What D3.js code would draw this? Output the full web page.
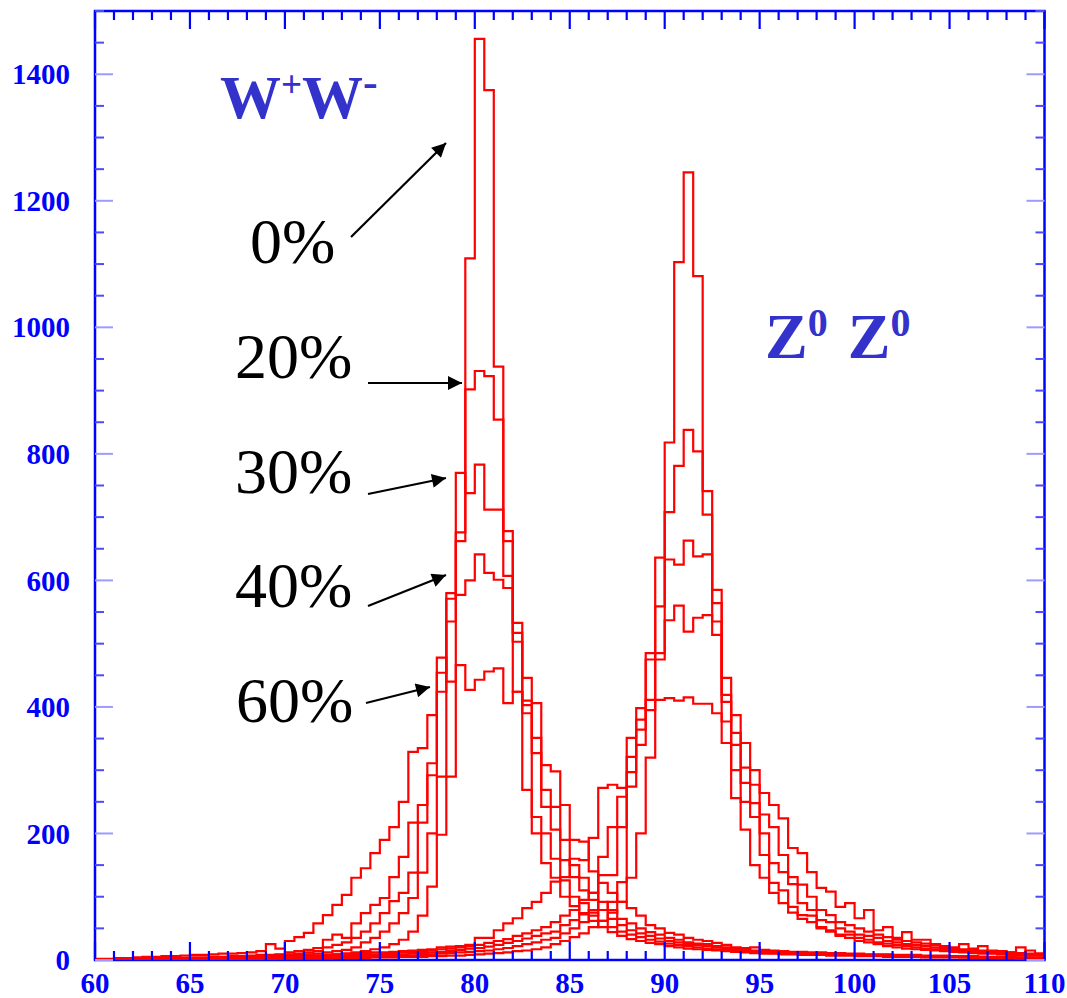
<!DOCTYPE html>
<html lang="en">
<head>
<meta charset="UTF-8">
<title>W+W- and Z0Z0 mass peaks</title>
<script src="https://d3js.org/d3.v7.min.js"></script>
<style>
  body, html { margin: 0; padding: 0; background: #ffffff; }
  svg { display: block; }
</style>
</head>
<body>
<svg id="chart"></svg>
<script>
const width = 1067;
const height = 998;

// 100 bins of 0.5 from 60 to 110
const binStart = 60;
const binWidth = 0.5;

// W+W- peaks, one array per smearing
const ww0 = [
  0, 1, 0, 1, 1, 1, 1, 1, 2, 1,
  2, 2, 2, 3, 2, 3, 3, 3, 4, 4,
  5, 5, 6, 7, 8, 9, 10, 12, 14, 17,
  20, 25, 32, 45, 70, 116, 198, 290, 676, 1109,
  1456, 1375, 938, 607, 424, 269, 200, 153, 130, 100,
  85, 72, 62, 52, 44, 38, 33, 30, 27, 25,
  22, 20, 18, 17, 16, 15, 14, 13, 12, 11,
  10, 10, 9, 9, 8, 8, 8, 7, 7, 7,
  6, 6, 6, 5, 5, 5, 5, 4, 4, 4,
  4, 4, 3, 3, 3, 3, 3, 2, 2, 2
];
const ww20 = [
  0, 1, 1, 1, 1, 2, 1, 2, 2, 2,
  2, 3, 3, 3, 4, 4, 4, 5, 5, 6,
  7, 8, 9, 10, 12, 14, 16, 20, 28, 35,
  45, 58, 74, 98, 138, 200, 290, 535, 662, 902,
  931, 923, 854, 662, 503, 390, 226, 200, 160, 126,
  100, 90, 75, 62, 52, 45, 40, 36, 32, 29,
  26, 24, 22, 20, 18, 17, 16, 15, 14, 13,
  12, 11, 11, 10, 10, 9, 9, 8, 8, 8,
  7, 7, 7, 6, 6, 6, 5, 5, 5, 5,
  5, 4, 4, 4, 4, 3, 3, 3, 3, 3
];
const ww30 = [
  1, 1, 1, 1, 2, 2, 2, 2, 2, 3,
  3, 3, 4, 4, 5, 5, 6, 6, 7, 8,
  9, 10, 12, 14, 20, 24, 28, 35, 45, 58,
  74, 93, 106, 138, 217, 292, 424, 571, 770, 738,
  783, 712, 712, 678, 517, 403, 327, 242, 206, 158,
  131, 110, 95, 79, 65, 55, 47, 42, 38, 34,
  30, 28, 25, 24, 22, 20, 18, 16, 15, 14,
  13, 12, 12, 11, 11, 10, 10, 9, 9, 9,
  8, 8, 7, 7, 7, 6, 6, 6, 5, 5,
  5, 5, 4, 4, 4, 4, 3, 3, 3, 3
];
const ww40 = [
  1, 1, 1, 2, 2, 2, 2, 3, 3, 3,
  4, 4, 5, 5, 6, 6, 7, 8, 8, 9,
  12, 14, 16, 19, 32, 40, 35, 58, 74, 87,
  98, 131, 163, 217, 245, 311, 454, 580, 577, 600,
  641, 612, 601, 588, 533, 446, 351, 269, 242, 190,
  150, 130, 106, 92, 79, 65, 58, 50, 44, 40,
  35, 32, 28, 26, 25, 22, 20, 18, 17, 15,
  14, 13, 13, 12, 12, 11, 11, 10, 10, 9,
  9, 8, 8, 8, 7, 7, 7, 6, 6, 6,
  5, 5, 5, 5, 4, 4, 4, 4, 3, 3
];
const ww60 = [
  2, 2, 3, 3, 4, 5, 5, 6, 6, 7,
  8, 8, 9, 10, 10, 11, 12, 14, 25, 18,
  30, 36, 43, 58, 71, 87, 103, 130, 145, 169,
  190, 210, 250, 329, 335, 387, 478, 440, 466, 427,
  443, 456, 461, 406, 424, 410, 406, 308, 298, 245,
  190, 187, 140, 122, 106, 92, 82, 70, 55, 50,
  43, 40, 35, 32, 30, 27, 24, 20, 19, 20,
  16, 15, 14, 13, 13, 12, 12, 11, 11, 10,
  10, 9, 9, 9, 8, 8, 8, 7, 7, 7,
  6, 6, 6, 5, 5, 5, 5, 4, 4, 4
];

// Z0Z0 peaks, same smearings
const zz0 = [
  0, 0, 0, 0, 0, 0, 0, 0, 1, 0,
  1, 0, 1, 1, 1, 1, 1, 1, 1, 2,
  2, 2, 2, 2, 2, 3, 3, 3, 3, 4,
  4, 4, 5, 5, 5, 6, 6, 7, 7, 8,
  9, 10, 11, 12, 14, 15, 17, 20, 25, 30,
  36, 42, 52, 62, 75, 92, 130, 200, 320, 475,
  818, 1103, 1245, 1081, 704, 514, 343, 256, 206, 150,
  130, 106, 90, 75, 65, 60, 50, 45, 38, 35,
  30, 28, 25, 22, 20, 18, 17, 16, 15, 14,
  13, 12, 11, 10, 10, 9, 8, 8, 7, 7
];
const zz20 = [
  0, 0, 0, 0, 0, 0, 1, 0, 1, 1,
  1, 1, 1, 1, 2, 1, 2, 2, 2, 2,
  3, 3, 3, 3, 4, 4, 4, 5, 5, 5,
  6, 6, 7, 7, 8, 9, 10, 11, 12, 13,
  14, 15, 17, 19, 22, 25, 28, 32, 35, 42,
  50, 60, 70, 79, 92, 123, 274, 340, 485, 636,
  708, 781, 838, 804, 741, 585, 446, 300, 250, 226,
  166, 122, 110, 84, 71, 70, 52, 47, 40, 40,
  35, 32, 28, 26, 24, 22, 20, 18, 17, 16,
  15, 14, 13, 12, 11, 10, 10, 9, 8, 8
];
const zz30 = [
  0, 0, 0, 0, 0, 1, 0, 1, 1, 1,
  1, 1, 2, 2, 2, 2, 2, 3, 3, 3,
  3, 4, 4, 4, 5, 5, 6, 6, 7, 7,
  8, 8, 9, 10, 11, 12, 13, 14, 16, 18,
  19, 21, 24, 27, 30, 34, 38, 42, 45, 55,
  63, 74, 79, 134, 134, 210, 297, 364, 475, 559,
  633, 625, 663, 638, 641, 564, 419, 340, 280, 248,
  200, 153, 139, 120, 90, 79, 63, 60, 50, 45,
  40, 38, 35, 30, 28, 25, 24, 22, 20, 18,
  17, 15, 14, 13, 12, 11, 10, 9, 9, 9
];
const zz40 = [
  0, 0, 0, 1, 0, 1, 1, 1, 1, 1,
  2, 2, 2, 2, 3, 3, 3, 3, 4, 4,
  4, 5, 5, 5, 6, 6, 7, 8, 8, 9,
  10, 11, 12, 13, 14, 15, 17, 18, 20, 22,
  24, 27, 30, 33, 38, 42, 47, 52, 60, 70,
  79, 95, 106, 163, 210, 258, 321, 380, 411, 485,
  537, 560, 519, 541, 545, 535, 408, 359, 304, 277,
  230, 210, 166, 131, 119, 100, 79, 71, 60, 55,
  50, 45, 40, 36, 32, 30, 28, 26, 24, 20,
  18, 17, 16, 15, 14, 13, 12, 20, 10, 10
];
const zz60 = [
  0, 0, 1, 1, 1, 1, 1, 2, 2, 2,
  2, 3, 3, 3, 3, 4, 4, 4, 5, 5,
  5, 6, 8, 7, 8, 9, 10, 10, 11, 12,
  12, 13, 14, 15, 16, 17, 20, 21, 22, 24,
  35, 35, 47, 58, 66, 82, 92, 106, 124, 131,
  160, 158, 193, 272, 277, 272, 351, 398, 395, 411,
  414, 410, 415, 405, 405, 390, 377, 387, 343, 300,
  264, 245, 224, 177, 169, 139, 114, 108, 84, 90,
  66, 79, 47, 52, 35, 44, 32, 32, 25, 22,
  20, 25, 18, 22, 15, 14, 12, 11, 15, 10
];

const xTicks = [60, 65, 70, 75, 80, 85, 90, 95, 100, 105, 110];
const yTicks = [0, 200, 400, 600, 800, 1000, 1200, 1400];
const smearLabels = ['0%', '20%', '30%', '40%', '60%'];

const histograms = [ww0, ww20, ww30, ww40, ww60, zz0, zz20, zz30, zz40, zz60];

const plot = { left: 95, right: 1044.5, top: 11, bottom: 960 };
const blue = '#0000ff';

const svg = d3.select('#chart')
    .attr('width', width)
    .attr('height', height);

const x = d3.scaleLinear()
    .domain([60, 110])
    .range([plot.left, plot.right]);

const y = d3.scaleLinear()
    .domain([0, 1500])
    .range([plot.bottom, plot.top]);

// arrowhead
svg.append('defs').append('marker')
    .attr('id', 'head')
    .attr('viewBox', '0 0 10 10')
    .attr('refX', 10)
    .attr('refY', 5)
    .attr('markerUnits', 'userSpaceOnUse')
    .attr('markerWidth', 17)
    .attr('markerHeight', 14)
    .attr('orient', 'auto')
    .append('path')
    .attr('d', 'M0,0 L10,5 L0,10 z')
    .attr('fill', 'black');

svg.append('clipPath').attr('id', 'plotClip')
    .append('rect')
    .attr('x', plot.left)
    .attr('y', plot.top)
    .attr('width', plot.right - plot.left)
    .attr('height', plot.bottom - plot.top);

// frame
svg.append('rect')
    .attr('x', plot.left)
    .attr('y', plot.top)
    .attr('width', plot.right - plot.left)
    .attr('height', plot.bottom - plot.top)
    .attr('fill', 'none')
    .attr('stroke', blue)
    .attr('stroke-width', 2.5);

// histograms as step lines
const step = d3.line()
    .x(d => x(d[0]))
    .y(d => y(d[1]))
    .curve(d3.curveStepAfter);

function toPoints(values) {
    const pts = values.map((v, i) => [binStart + i * binWidth, v]);
    pts.push([binStart + values.length * binWidth, values[values.length - 1]]);
    return pts;
}

svg.append('g')
    .attr('clip-path', 'url(#plotClip)')
    .selectAll('path')
    .data(histograms)
    .join('path')
    .attr('d', d => step(toPoints(d)))
    .attr('fill', 'none')
    .attr('stroke', '#ff0000')
    .attr('stroke-width', 2.2)
    .attr('stroke-linejoin', 'miter');

// ticks on all four sides
const xMinor = d3.range(60, 111, 1);
const yMinor = d3.range(0, 1501, 50);
const ticks = svg.append('g');

ticks.selectAll('.xt-top')
    .data(xMinor)
    .join('line')
    .attr('x1', d => x(d)).attr('x2', d => x(d))
    .attr('y1', plot.top)
    .attr('y2', d => plot.top + (d % 5 === 0 ? 18 : 9))
    .attr('stroke', blue).attr('stroke-width', 2.2);

ticks.selectAll('.xt-bot')
    .data(xMinor)
    .join('line')
    .attr('x1', d => x(d)).attr('x2', d => x(d))
    .attr('y1', plot.bottom)
    .attr('y2', d => plot.bottom - (d % 5 === 0 ? 18 : 9))
    .attr('stroke', blue).attr('stroke-width', 2.2);

ticks.selectAll('.yt-left')
    .data(yMinor)
    .join('line')
    .attr('x1', plot.left)
    .attr('x2', d => plot.left + (d % 200 === 0 ? 18 : 9))
    .attr('y1', d => y(d)).attr('y2', d => y(d))
    .attr('stroke', d => d % 200 === 0 ? '#9c9cff' : '#4a4aff')
    .attr('stroke-width', 2);

ticks.selectAll('.yt-right')
    .data(yMinor)
    .join('line')
    .attr('x1', plot.right)
    .attr('x2', d => plot.right - (d % 200 === 0 ? 18 : 9))
    .attr('y1', d => y(d)).attr('y2', d => y(d))
    .attr('stroke', d => d % 200 === 0 ? '#9c9cff' : '#4a4aff')
    .attr('stroke-width', 2);

// tick labels
const labelFont = '"Liberation Serif", "DejaVu Serif", serif';

svg.append('g')
    .selectAll('text')
    .data(xTicks)
    .join('text')
    .attr('x', d => x(d))
    .attr('y', 993)
    .attr('text-anchor', 'middle')
    .style('font-family', labelFont)
    .style('font-weight', 'bold')
    .style('font-size', '29px')
    .style('fill', blue)
    .text(d => d);

svg.append('g')
    .selectAll('text')
    .data(yTicks)
    .join('text')
    .attr('x', 70)
    .attr('y', d => y(d))
    .attr('dy', '0.35em')
    .attr('text-anchor', 'end')
    .style('font-family', labelFont)
    .style('font-weight', 'bold')
    .style('font-size', '29px')
    .style('fill', blue)
    .text(d => d);

// process titles
const titleColor = '#3333cc';

const ww = svg.append('text')
    .attr('x', 220)
    .attr('y', 118)
    .style('font-family', labelFont)
    .style('font-weight', 'bold')
    .style('font-size', '61px')
    .style('fill', titleColor);
ww.append('tspan').text('W');
ww.append('tspan').attr('dy', -21).style('font-size', '37px').text('+');
ww.append('tspan').attr('dy', 21).text('W');
ww.append('tspan').attr('dy', -21).style('font-size', '44px').text('-');

const zz = svg.append('text')
    .attr('x', 765)
    .attr('y', 358)
    .style('font-family', labelFont)
    .style('font-weight', 'bold')
    .style('font-size', '64px')
    .style('fill', titleColor);
zz.append('tspan').text('Z');
zz.append('tspan').attr('dy', -22).style('font-size', '40px').text('0');
zz.append('tspan').attr('dy', 22).attr('dx', 20).text('Z');
zz.append('tspan').attr('dy', -22).style('font-size', '40px').text('0');

// smearing labels with arrows (pixel layout)
const notes = [
    { tx: 250, ty: 263, x1: 351, y1: 237, x2: 446, y2: 143 },
    { tx: 235, ty: 378, x1: 368, y1: 383, x2: 462, y2: 383 },
    { tx: 235, ty: 493, x1: 368, y1: 494, x2: 446, y2: 478 },
    { tx: 235, ty: 607, x1: 368, y1: 606, x2: 446, y2: 575 },
    { tx: 236, ty: 722, x1: 366, y1: 703, x2: 430, y2: 687 }
];

svg.append('g')
    .selectAll('text')
    .data(notes)
    .join('text')
    .attr('x', d => d.tx)
    .attr('y', d => d.ty)
    .style('font-family', labelFont)
    .style('font-size', '64px')
    .style('fill', 'black')
    .text((d, i) => smearLabels[i]);

svg.append('g')
    .selectAll('line')
    .data(notes)
    .join('line')
    .attr('x1', d => d.x1).attr('y1', d => d.y1)
    .attr('x2', d => d.x2).attr('y2', d => d.y2)
    .attr('stroke', 'black')
    .attr('stroke-width', 2.2)
    .attr('marker-end', 'url(#head)');
</script>
</body>
</html>
